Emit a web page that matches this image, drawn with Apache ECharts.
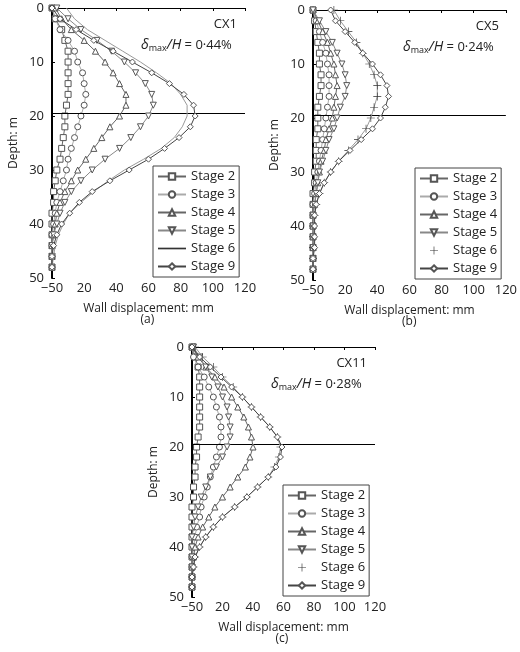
<!DOCTYPE html>
<html><head><meta charset="utf-8">
<script src="https://cdn.jsdelivr.net/npm/echarts@6/dist/echarts.min.js"></script>
<style>html,body{margin:0;padding:0;background:#fff}#c{width:520px;height:652px}</style>
</head><body><div id="c"></div>
<script>
const depths=[0,2,4,6,8,10,12,14,16,18,20,22,24,26,28,30,32,34,36,38,40,42,44,46,48];
const stageNames=['Stage 2','Stage 3','Stage 4','Stage 5','Stage 6','Stage 9'];
const xTicks=[0,20,40,60,80,100,120];
const yTicks=[0,10,20,30,40,50];
// CX1
const a_s2=[0,2,6,8,10,10,10,10,10,9,8,8,7,6,5,3,2,1,1,0,0,0,0,0,0];
const a_s3=[0,2,5,10,14,16,19,20,21,20,18,16,14,12,10,9,7,5,3,2,1,0,0,0,0];
const a_s4=[2,6,12,20,27,33,38,42,46,46,42,36,31,26,21,16,12,8,5,3,2,1,0,0,0];
const a_s5=[3,10,18,28,37,45,52,58,62,63,60,55,49,42,33,25,18,12,8,5,3,1,0,0,0];
const a_s6=[9,14,22,33,44,55,65,74,80,84,84,81,76,68,57,45,35,26,18,11,7,4,2,1,0];
const a_s9=[0,5,15,26,38,50,62,73,82,88,89,86,79,70,60,48,36,25,17,11,6,3,1,0,0];
// CX5
const b_s2=[0,1,2,3,4,4,5,5,4,3,3,3,2,2,2,1,1,0,0,0,0,0,0,0,0];
const b_s3=[0,2,4,6,8,9,10,10,10,9,8,7,6,5,4,3,2,1,0,0,0,0,0,0,0];
const b_s4=[0,3,6,9,11,13,14,15,14,13,12,10,8,7,5,4,3,2,1,0,0,0,0,0,0];
const b_s5=[0,4,8,12,15,18,20,21,20,17,15,13,10,8,6,4,3,2,1,0,0,0,0,0,0];
const b_s6=[13,17,22,27,31,35,38,40,40,38,36,33,28,22,16,11,7,4,2,1,0,0,0,0,0];
const b_s9=[11,14,20,26,31,37,42,46,47,45,42,37,30,23,16,11,7,4,2,1,1,1,1,0,0];
// CX11
const c_s2=[0,2,4,5,5,5,5,5,5,4,3,3,2,2,1,1,0,0,0,0,0,0,0,0,0];
const c_s3=[0,1,4,8,11,14,16,18,19,19,18,16,14,12,10,8,6,5,3,2,1,0,0,0,0];
const c_s4=[0,4,9,15,21,26,30,34,37,39,40,38,35,30,25,20,15,11,7,4,2,1,0,0,0];
const c_s5=[1,5,9,13,17,20,23,24,25,25,23,20,16,12,9,6,4,2,1,0,0,0,0,0,0];
const c_s6=[2,7,14,20,27,33,39,45,51,56,58,57,54,50,43,36,28,20,14,9,5,2,1,0,0];
const c_s9=[0,5,12,19,26,33,39,45,51,56,59,58,55,50,43,36,28,20,14,9,5,2,1,0,0];
const excavationDepth=19.5;
const panels=[
 {id:'CX1',ratio:'0·44%',tag:'(a)',data:[a_s2,a_s3,a_s4,a_s5,a_s6,a_s9],s6marker:false},
 {id:'CX5',ratio:'0·24%',tag:'(b)',data:[b_s2,b_s3,b_s4,b_s5,b_s6,b_s9],s6marker:true},
 {id:'CX11',ratio:'0·28%',tag:'(c)',data:[c_s2,c_s3,c_s4,c_s5,c_s6,c_s9],s6marker:true}
];
const grids=[{left:52,top:8,width:193,height:270},{left:313,top:10,width:194,height:270},{left:192,top:347,width:183,height:250}];
const FONT='Open Sans';
const plusPath='path://M4.6,0H5.4V4.6H10V5.4H5.4V10H4.6V5.4H0V4.6H4.6Z';
const symbols=['rect','circle','triangle','path://M0,0L10,0L5,9Z',plusPath,'diamond'];
const lineCols=['#666','#aaa','#666','#888','#999','#444'];
const series=[],xAxes=[],yAxes=[],legends=[],graphics=[];
panels.forEach((p,i)=>{
 const g=grids[i];
 xAxes.push({gridIndex:i,type:'value',min:0,max:120,interval:20,
  axisLine:{lineStyle:{color:'#000',width:1}},axisTick:{show:true,length:3,lineStyle:{color:'#000'}},splitLine:{show:false},
  axisLabel:{color:'#222',fontFamily:FONT,fontSize:13,margin:4,formatter:v=>v===0?'−50':String(v)},
  name:'Wall displacement: mm',nameLocation:'middle',nameGap:25,nameTextStyle:{color:'#222',fontFamily:FONT,fontSize:12}});
 yAxes.push({gridIndex:i,type:'value',inverse:true,min:0,max:50,interval:10,
  axisLine:{lineStyle:{color:'#000',width:2}},axisTick:{show:true,inside:true,length:3,lineStyle:{color:'#000'}},splitLine:{show:false},
  axisLabel:{color:'#222',fontFamily:FONT,fontSize:13,margin:8},
  name:'Depth: m',nameLocation:'middle',nameGap:32,nameTextStyle:{color:'#222',fontFamily:FONT,fontSize:12}});
 p.data.forEach((arr,k)=>{
  const noMark=(k===4&&!p.s6marker);
  const isPlus=k===4;
  const s={type:'line',name:stageNames[k],xAxisIndex:i,yAxisIndex:i,
   data:arr.map((v,j)=>[v,depths[j]]),
   symbol:noMark?'none':symbols[k],symbolSize:isPlus?8:6,showSymbol:!noMark,
   lineStyle:{color:lineCols[k],width:1},
   itemStyle:isPlus?{color:'#333',borderWidth:0}:{color:'#fff',borderColor:'#555',borderWidth:1},
   animation:false,z:3+k};
  if(k===0){s.markLine={silent:true,symbol:'none',label:{show:false},lineStyle:{color:'#000',width:1,type:'solid'},data:[{yAxis:excavationDepth}]};}
  series.push(s);
 });
 legends.push({show:true,orient:'vertical',left:g.left+g.width-92,top:g.top+g.height-112,width:88,
  data:stageNames.map((n,k)=>k===4?{name:n,icon:p.s6marker?plusPath:'path://M0,5H10V5.6H0Z'}:n),
  itemWidth:28,itemHeight:8,itemGap:5,padding:[4,4,4,4],
  borderColor:'#444',borderWidth:1,backgroundColor:'#fff',
  textStyle:{color:'#222',fontFamily:FONT,fontSize:13},selectedMode:false});
 graphics.push({type:'text',right:520-(g.left+g.width-8),top:g.top+10,style:{text:p.id,font:'13px "Open Sans"',fill:'#222',textAlign:'right'}});
 graphics.push({type:'text',left:g.left+g.width-104,top:g.top+30,style:{
  text:'{i|δ}{s|max}{i|/H} {n|= '+p.ratio+'}',
  rich:{i:{fontStyle:'italic',fontFamily:FONT,fontSize:14,fill:'#222'},s:{fontFamily:FONT,fontSize:9,verticalAlign:'bottom',padding:[6,0,0,0],fill:'#222'},n:{fontFamily:FONT,fontSize:13,fill:'#222'}}}});
 graphics.push({type:'text',left:g.left+g.width/2-8,top:g.top+g.height+36,style:{text:p.tag,font:'12px "Open Sans"',fill:'#222'}});
});
const chart=echarts.init(document.getElementById('c'));
chart.setOption({animation:false,grid:grids,xAxis:xAxes,yAxis:yAxes,series,legend:legends,graphic:graphics});
</script></body></html>
